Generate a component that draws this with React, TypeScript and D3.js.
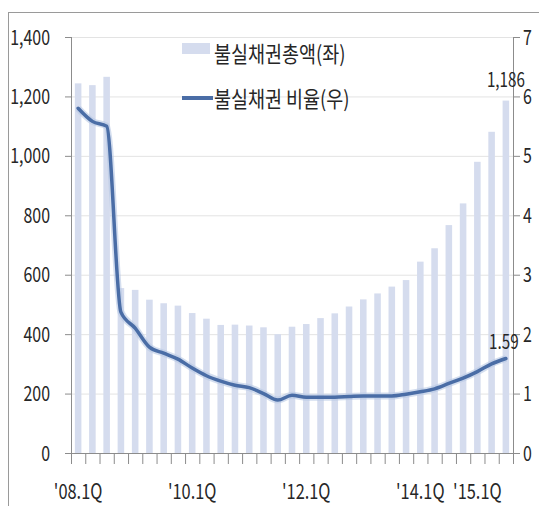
import React from "react";
import * as d3 from "d3";

const quarters: string[] = [
  "'08.1Q", "'08.2Q", "'08.3Q", "'08.4Q",
  "'09.1Q", "'09.2Q", "'09.3Q", "'09.4Q",
  "'10.1Q", "'10.2Q", "'10.3Q", "'10.4Q",
  "'11.1Q", "'11.2Q", "'11.3Q", "'11.4Q",
  "'12.1Q", "'12.2Q", "'12.3Q", "'12.4Q",
  "'13.1Q", "'13.2Q", "'13.3Q", "'13.4Q",
  "'14.1Q", "'14.2Q", "'14.3Q", "'14.4Q",
  "'15.1Q", "'15.2Q", "'15.3Q",
];

// 불실채권총액 (left axis)
const totalAmount: number[] = [
  1244, 1238, 1266, 555, 549, 516, 504, 496,
  471, 452, 431, 432, 429, 423, 400, 425,
  434, 454, 470, 493, 517, 537, 560, 582,
  644, 689, 767, 840, 980, 1081, 1186,
];

// 불실채권 비율 (right axis)
const ratio: number[] = [
  5.8, 5.58, 5.5, 2.37, 2.1, 1.78, 1.68, 1.58,
  1.43, 1.3, 1.21, 1.14, 1.1, 1.0, 0.89, 0.97,
  0.94, 0.94, 0.94, 0.95, 0.96, 0.96, 0.96, 0.99,
  1.03, 1.08, 1.17, 1.26, 1.37, 1.5, 1.59,
];

const xTickLabels: string[] = ["'08.1Q", "'10.1Q", "'12.1Q", "'14.1Q", "'15.1Q"];
const leftTicks: number[] = [0, 200, 400, 600, 800, 1000, 1200, 1400];
const rightTicks: number[] = [0, 1, 2, 3, 4, 5, 6, 7];
const legendLabels: string[] = ["불실채권총액(좌)", "불실채권 비율(우)"];

const W = 539;
const H = 506;
const FONT = "'Noto Sans CJK KR', 'Noto Sans', sans-serif";
const AXIS = "#8c8c8c";

function Txt(props: {
  x: number; y: number; children: React.ReactNode; anchor?: string; size?: number; sx?: number; fill?: string;
}) {
  const { x, y, children, anchor = "start", size = 18, sx = 0.8, fill = "#262626" } = props;
  return (
    <text
      transform={`translate(${x},${y}) scale(${sx},1)`}
      textAnchor={anchor}
      fontSize={size}
      fontFamily={FONT}
      fill={fill}
    >
      {children}
    </text>
  );
}

export default function App() {
  const left = 71, right = 513, top = 37, bottom = 453;
  const x = d3.scaleBand<string>().domain(quarters).range([left, right]).paddingInner(0.54).paddingOuter(0.27);
  const step = x.step();
  const yL = d3.scaleLinear().domain([0, 1400]).range([bottom, top]);
  const yR = d3.scaleLinear().domain([0, 7]).range([bottom, top]);
  const cx = (q: string) => (x(q) ?? 0) + x.bandwidth() / 2;

  const line = d3
    .line<number>()
    .x((_, i) => cx(quarters[i]))
    .y((d) => yR(d))
    .curve(d3.curveMonotoneX);
  const path = line(ratio) ?? "";

  const lastQ = quarters[quarters.length - 1];
  const lastAmt = totalAmount[totalAmount.length - 1];
  const lastRatio = ratio[ratio.length - 1];

  const boundaries = d3.range(quarters.length + 1).map((i) => left + i * step);

  return (
    <div style={{ position: "fixed", left: 0, top: 0 }}>
      <svg width={W} height={H} style={{ display: "block", background: "#fff" }}>
        {/* frame */}
        <line x1={8.5} x2={8.5} y1={12} y2={H} stroke="#9a9a9a" strokeWidth={1} />
        <line x1={8} x2={W} y1={12.5} y2={12.5} stroke="#9a9a9a" strokeWidth={1} />

        {/* gridlines */}
        {leftTicks.filter((t) => t > 0).map((t) => (
          <line key={t} x1={left} x2={right} y1={yL(t) + 0.5} y2={yL(t) + 0.5} stroke="#e3e3e3" strokeWidth={1} />
        ))}

        {/* bars */}
        {quarters.map((q, i) => (
          <rect
            key={q}
            x={x(q)}
            y={yL(totalAmount[i])}
            width={x.bandwidth()}
            height={bottom - yL(totalAmount[i])}
            fill="#d5dcee"
          />
        ))}

        {/* line */}
        <path d={path} fill="none" stroke="#b7c8e4" strokeWidth={7} strokeOpacity={0.6} strokeLinejoin="round" />
        <path d={path} fill="none" stroke="#4a6da6" strokeWidth={3.5} strokeLinejoin="round" strokeLinecap="round" />

        {/* axes */}
        <line x1={left + 0.5} x2={left + 0.5} y1={top} y2={bottom} stroke={AXIS} />
        <line x1={right + 0.5} x2={right + 0.5} y1={top} y2={bottom} stroke={AXIS} />
        <line x1={left - 6} x2={right + 7} y1={bottom + 0.5} y2={bottom + 0.5} stroke={AXIS} />
        {leftTicks.map((t) => (
          <line key={"lt" + t} x1={left - 6} x2={left} y1={yL(t) + 0.5} y2={yL(t) + 0.5} stroke={AXIS} />
        ))}
        {rightTicks.map((t) => (
          <line key={"rt" + t} x1={right} x2={right + 7} y1={yR(t) + 0.5} y2={yR(t) + 0.5} stroke={AXIS} />
        ))}
        {boundaries.map((b, i) => (
          <line key={"xt" + i} x1={b + 0.5} x2={b + 0.5} y1={bottom} y2={bottom + 11} stroke={AXIS} />
        ))}

        {/* left tick labels */}
        {leftTicks.map((t) => (
          <Txt key={"ll" + t} x={50} y={yL(t) + 7.5} anchor="end" size={21} sx={0.76}>
            {d3.format(",")(t)}
          </Txt>
        ))}
        {/* right tick labels */}
        {rightTicks.map((t) => (
          <Txt key={"rl" + t} x={523} y={yR(t) + 7.5} size={21} sx={0.76}>
            {String(t)}
          </Txt>
        ))}
        {/* x labels */}
        {xTickLabels.map((l) => (
          <Txt key={l} x={cx(l)} y={499} anchor="middle" size={21} sx={0.78}>
            {l}
          </Txt>
        ))}

        {/* data labels */}
        <Txt x={cx(lastQ)} y={yL(lastAmt) - 14} anchor="middle" size={20} sx={0.76}>
          {d3.format(",")(lastAmt)}
        </Txt>
        <Txt x={cx(lastQ) - 2} y={yR(lastRatio) - 10} anchor="middle" size={20} sx={0.76}>
          {String(lastRatio)}
        </Txt>

        {/* legend */}
        <rect x={182} y={43} width={28} height={11} fill="#d5dcee" />
        <Txt x={214} y={62} size={22} sx={0.84}>{legendLabels[0]}</Txt>
        <line x1={182} x2={213} y1={98} y2={98} stroke="#4a6da6" strokeWidth={4} />
        <Txt x={214} y={107} size={22} sx={0.84}>{legendLabels[1]}</Txt>
      </svg>
    </div>
  );
}
